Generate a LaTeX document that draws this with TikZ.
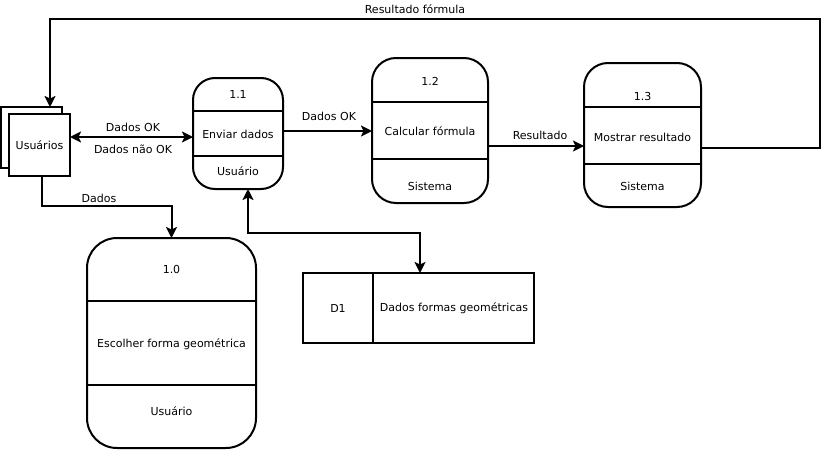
\documentclass[tikz,border=0pt]{standalone}
\usepackage{fontspec}
\setmainfont{DejaVu Sans}
\usetikzlibrary{arrows.meta}
\begin{document}
\begin{tikzpicture}[x=1pt,y=-1pt,
  lw/.style={line width=2pt},
  proc/.style={lw, draw, rectangle, inner sep=0pt, outer sep=0pt, rounded corners=#1, fill=white},
  proc/.default=20pt,
  sq/.style={lw, draw, rectangle, inner sep=0pt, outer sep=0pt, fill=white},
  txt/.style={inner sep=0pt, font=\fontsize{11}{13}\selectfont},
  flow/.style={lw, -{Stealth[length=11pt,width=11pt,inset=2.5pt]}},
  bflow/.style={lw, {Stealth[length=11pt,width=11pt,inset=2.5pt]}-{Stealth[length=11pt,width=11pt,inset=2.5pt]}}
]
\useasboundingbox (0,0) rectangle (823,450);
\fill[white] (0,0) rectangle (823,450);

% external entity
\node[sq, minimum width=61pt, minimum height=61pt] (ub) at (31.5,137.5) {};
\node[sq, minimum width=61pt, minimum height=62pt] (uf) at (39.5,145) {};
\node[txt] (tu) at (39.5,145) {Usuários};

% process 1.1
\node[proc=22pt, minimum width=90pt, minimum height=111pt] (p11) at (238,133.5) {};
\draw[lw] (p11.west |- 0,111) -- (p11.east |- 0,111);
\draw[lw] (p11.west |- 0,156) -- (p11.east |- 0,156);
\node[txt] (t11a) at (238,94.5) {1.1};
\node[txt] (t11b) at (238,134) {Enviar dados};
\node[txt] (t11c) at (238,171) {Usuário};

% process 1.2
\node[proc=24pt, minimum width=116pt, minimum height=145pt] (p12) at (430,130.5) {};
\draw[lw] (p12.west |- 0,102) -- (p12.east |- 0,102);
\draw[lw] (p12.west |- 0,159) -- (p12.east |- 0,159);
\node[txt] (t12a) at (430,81) {1.2};
\node[txt] (t12b) at (430,131) {Calcular fórmula};
\node[txt] (t12c) at (430,186) {Sistema};

% process 1.3
\node[proc=24pt, minimum width=117pt, minimum height=144pt] (p13) at (642.5,135) {};
\draw[lw] (p13.west |- 0,107) -- (p13.east |- 0,107);
\draw[lw] (p13.west |- 0,164) -- (p13.east |- 0,164);
\node[txt] (t13a) at (642.5,96) {1.3};
\node[txt] (t13b) at (642.5,137) {Mostrar resultado};
\node[txt] (t13c) at (642.5,186) {Sistema};

% process 1.0
\node[proc=30pt, minimum width=169pt, minimum height=210pt] (p10) at (171.5,343) {};
\draw[lw] (p10.west |- 0,301) -- (p10.east |- 0,301);
\draw[lw] (p10.west |- 0,385) -- (p10.east |- 0,385);
\node[txt] (t10a) at (171.5,269) {1.0};
\node[txt] (t10b) at (171.5,344) {Escolher forma geométrica};
\node[txt] (t10c) at (171.5,411) {Usuário};

% data store
\node[sq, minimum width=231pt, minimum height=70pt] (d1) at (418.5,308) {};
\draw[lw] (373,0 |- d1.north) -- (373,0 |- d1.south);
\node[txt] (td1a) at (338,308) {D1};
\node[txt] (td1b) at (454,308) {Dados formas geométricas};

% connectors
\coordinate (c1) at (820,148);
\coordinate (c2) at (820,19);
\coordinate (c3) at (50,19);
\draw[flow] (p13.east |- c1) -- (c1) -- (c2) -- (c3) -- (c3 |- ub.north);
\node[txt] (lrf) at (415,9) {Resultado fórmula};

\draw[bflow] (uf.east |- 0,137) -- (p11.west |- 0,137);
\node[txt] (lok1) at (133,127) {Dados OK};
\node[txt] (lnok) at (133,149) {Dados não OK};

\draw[flow] (p11.east |- 0,131) -- (p12.west |- 0,131);
\node[txt] (lok2) at (329,116) {Dados OK};

\draw[flow] (p12.east |- 0,146) -- (p13.west |- 0,146);
\node[txt] (lres) at (540,135) {Resultado};

\coordinate (c4) at (42,206);
\draw[flow] (uf.south -| c4) -- (c4) -| (p10.north);
\node[txt] (ldad) at (99,198) {Dados};

\coordinate (c5) at (248,233);
\coordinate (c6) at (420,233);
\draw[bflow] (p11.south -| c5) -- (c5) -- (c6) -- (c6 |- d1.north);
\end{tikzpicture}
\end{document}
